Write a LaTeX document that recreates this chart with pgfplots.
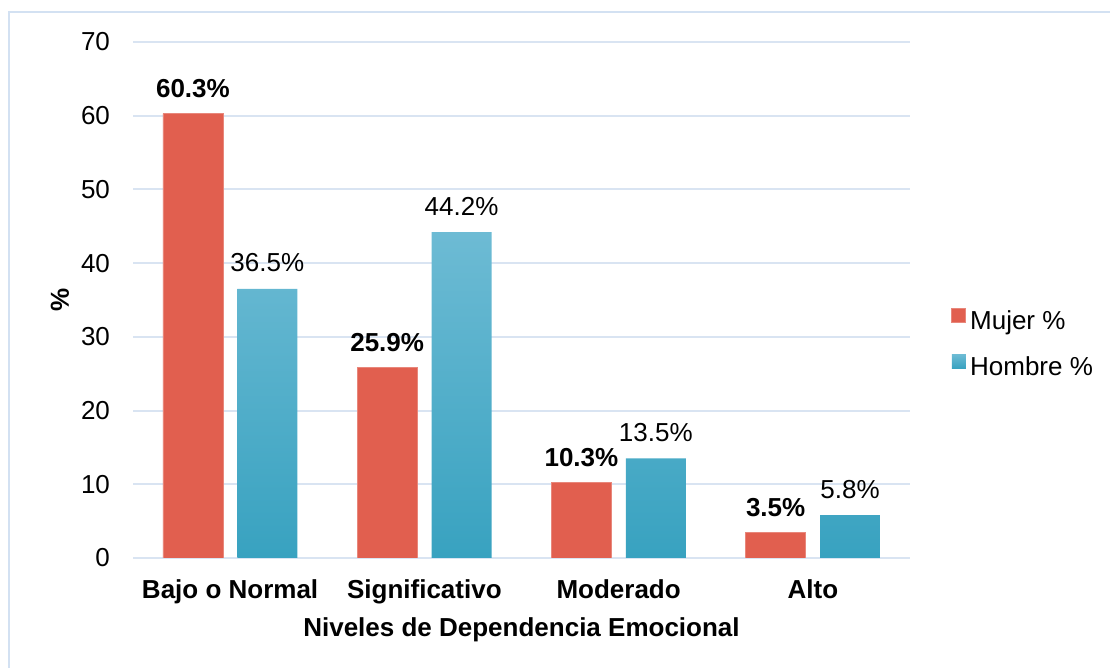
\documentclass[border=0pt]{standalone}
\usepackage{fontspec}
\setmainfont{Liberation Sans}
\usepackage{pgfplots}
\pgfplotsset{compat=1.18}
\definecolor{mujer}{HTML}{E15F4F}
\definecolor{hombreTop}{HTML}{6DBBD4}
\definecolor{hombreBot}{HTML}{38A2C0}
\definecolor{gridc}{HTML}{D9E4F2}
\definecolor{framec}{HTML}{D3E1F2}
\newcommand{\chartfont}{\fontsize{13}{15.6}\selectfont}

\begin{document}
\begin{tikzpicture}
\useasboundingbox (0,0) rectangle (555pt,334pt);
\draw[framec, line width=1pt] (4.5pt,-5pt) -- (4.5pt,327.75pt) -- (560pt,327.75pt);
\begin{axis}[
  at={(66.5pt,55pt)}, anchor=south west,
  scale only axis, width=388.5pt, height=258pt,
  ybar, bar width=30pt,
  xmin=-0.5, xmax=3.5, ymin=0, ymax=70,
  xtick={0,1,2,3},
  xticklabels={Bajo o Normal, Significativo, Moderado, Alto},
  ytick={0,10,...,70},
  ymajorgrids, grid style={gridc, line width=1pt},
  axis line style={draw=none},
  major tick length=0pt,
  font=\chartfont,
  /pgf/number format/assume math mode=true,
  xticklabel style={font=\chartfont\bfseries, anchor=base, yshift=-20.5pt},
  yticklabel style={font=\chartfont, xshift=-8pt},
  xlabel={Niveles de Dependencia Emocional},
  xlabel style={font=\chartfont\bfseries, at={(axis description cs:0.5,0)}, anchor=base, yshift=-39.5pt},
  ylabel={\%},
  ylabel style={font=\chartfont\bfseries, at={(axis description cs:-0.094,0.5)}, anchor=center},
  legend style={draw=none, fill=none, at={(rel axis cs:1.045,0.414)}, anchor=west,
    font=\chartfont, row sep=8pt},
  legend cell align=left,
  legend image code/.code={\fill[#1] (0pt,-0.5pt) rectangle (7pt,6.5pt);},
]
\addplot[fill=mujer, draw=mujer!75!white, line width=0.4pt, bar shift=-18.6pt,
  nodes near coords={\pgfmathprintnumber[fixed,fixed zerofill,precision=1]{\pgfplotspointmeta}\%},
  every node near coord/.append style={font=\chartfont\bfseries, text=black, anchor=base, yshift=8pt}]
  coordinates {(0,60.3) (1,25.9) (2,10.3) (3,3.5)};
\addplot[top color=hombreTop, bottom color=hombreBot, draw=none, bar shift=18.6pt,
  nodes near coords={\pgfmathprintnumber[fixed,fixed zerofill,precision=1]{\pgfplotspointmeta}\%},
  every node near coord/.append style={font=\chartfont, text=black, anchor=base, yshift=8.5pt}]
  coordinates {(0,36.5) (1,44.2) (2,13.5) (3,5.8)};
\legend{Mujer \%, Hombre \%}
\end{axis}
\end{tikzpicture}
\end{document}
